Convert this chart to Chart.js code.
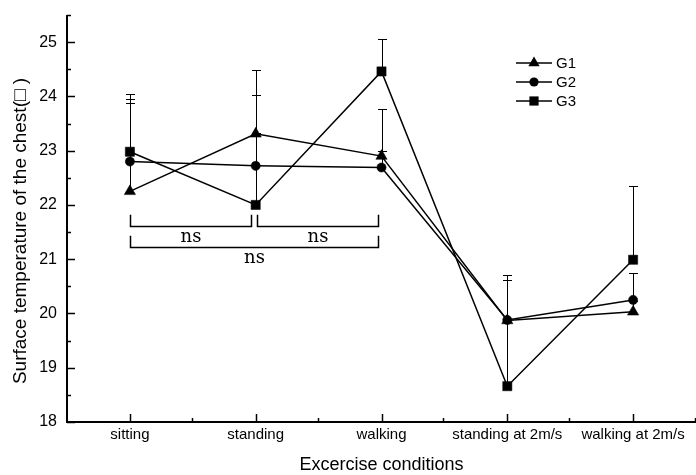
<!DOCTYPE html>
<html><head><meta charset="utf-8">
<script src="https://cdn.jsdelivr.net/npm/chart.js@4/dist/chart.umd.min.js"></script>
<style>html,body{margin:0;padding:0;background:#fff}#wrap{width:696px;height:475px;position:relative}</style>
</head><body><div id="wrap"><canvas id="c"></canvas></div>
<script>
const categories = ['sitting', 'standing', 'walking', 'standing at 2m/s', 'walking at 2m/s'];
const seriesNames = ['G1', 'G2', 'G3'];
const g1Values = [22.25, 23.31, 22.90, 19.87, 20.03];
const g2Values = [22.80, 22.72, 22.69, 19.88, 20.25];
const g3Values = [22.98, 22.00, 24.46, 18.66, 20.99];
const g1Errors = [1.63, 1.17, 0.87, 0.74, 0.20];
const g2Errors = [1.15, 0.60, 0.31, 0.82, 0.49];
const g3Errors = [1.06, 2.02, 0.59, 2.05, 1.35];
const yTickValues = [18, 19, 20, 21, 22, 23, 24, 25];
const bracketFrom = [0.00, 1.01, 0.00];
const bracketTo = [0.96, 1.97, 1.97];
const bracketLevel = [21.62, 21.62, 21.22];
const bracketTop = [21.82, 21.82, 21.43];
const bracketLabels = ['ns', 'ns', 'ns'];
const xTitle = 'Excercise conditions';
const yTitle = 'Surface temperature of the chest(\u25A1 )';

const SANS = '"Liberation Sans", Arial, sans-serif';

function drawMarker(ctx, style, cx, cy, r) {
  ctx.beginPath();
  if (style === 'triangle') {
    for (let k = 0; k < 3; k++) {
      const a = -Math.PI / 2 + k * 2 * Math.PI / 3;
      const px = cx + Math.cos(a) * r, py = cy + Math.sin(a) * r;
      if (k === 0) ctx.moveTo(px, py); else ctx.lineTo(px, py);
    }
    ctx.closePath();
  } else if (style === 'circle') {
    ctx.arc(cx, cy, r, 0, Math.PI * 2);
  } else {
    const s = r * Math.SQRT1_2;
    ctx.rect(cx - s, cy - s, 2 * s, 2 * s);
  }
  ctx.fill();
}

const decor = {
  id: 'decor',
  beforeDatasetsDraw(chart) {
    const { ctx, scales: { x, y } } = chart;
    ctx.save();
    ctx.strokeStyle = '#000';
    ctx.lineWidth = 1;
    chart.data.datasets.forEach(ds => {
      ds.errors.forEach((e, i) => {
        const px = Math.round(x.getPixelForValue(i)) + 0.5;
        const y0 = y.getPixelForValue(ds.data[i]);
        const y1 = Math.round(y.getPixelForValue(ds.data[i] + e)) + 0.5;
        ctx.beginPath();
        ctx.moveTo(px, y0); ctx.lineTo(px, y1);
        ctx.moveTo(px - 4.5, y1); ctx.lineTo(px + 4.5, y1);
        ctx.stroke();
      });
    });
    ctx.restore();
  },
  afterDraw(chart) {
    const { ctx, chartArea: a, scales: { x, y } } = chart;
    ctx.save();
    ctx.strokeStyle = '#000';
    ctx.fillStyle = '#000';
    // axis lines
    ctx.lineWidth = 2;
    ctx.beginPath();
    ctx.moveTo(a.left, a.top); ctx.lineTo(a.left, a.bottom); ctx.lineTo(a.right, a.bottom);
    ctx.stroke();
    // y ticks (inward)
    ctx.lineWidth = 1.5;
    for (let v = y.min; v <= y.max + 1e-9; v += 0.5) {
      const py = Math.round(y.getPixelForValue(v)) + 0.5;
      const len = Math.abs(v - Math.round(v)) < 1e-6 ? 8 : 4;
      ctx.beginPath(); ctx.moveTo(a.left, py); ctx.lineTo(a.left + len, py); ctx.stroke();
    }
    // x ticks (inward)
    for (let i = 0; i < categories.length; i++) {
      const px = Math.round(x.getPixelForValue(i)) + 0.5;
      ctx.beginPath(); ctx.moveTo(px, a.bottom); ctx.lineTo(px, a.bottom - 8); ctx.stroke();
      const pm = Math.round(x.getPixelForValue(i + 0.5)) - 0.5;
      ctx.beginPath(); ctx.moveTo(pm, a.bottom); ctx.lineTo(pm, a.bottom - 4); ctx.stroke();
    }
    // brackets
    ctx.lineWidth = 1.5;
    ctx.font = '18px "DejaVu Serif", serif';
    ctx.textAlign = 'center';
    ctx.textBaseline = 'middle';
    for (let b = 0; b < bracketLabels.length; b++) {
      const x0 = Math.round(x.getPixelForValue(bracketFrom[b])) + 0.5;
      const x1 = Math.round(x.getPixelForValue(bracketTo[b])) + 0.5;
      const yl = Math.round(y.getPixelForValue(bracketLevel[b])) + 0.5;
      const yt = y.getPixelForValue(bracketTop[b]);
      ctx.beginPath();
      ctx.moveTo(x0, yt); ctx.lineTo(x0, yl); ctx.lineTo(x1, yl); ctx.lineTo(x1, yt);
      ctx.stroke();
      ctx.fillText(bracketLabels[b], (x0 + x1) / 2, yl + 11);
    }
    // legend
    const lx0 = 516, lx1 = 552, ly = [63, 82, 101];
    ctx.font = '15px ' + SANS;
    ctx.textAlign = 'left';
    chart.data.datasets.forEach((ds, i) => {
      ctx.lineWidth = 1.5;
      ctx.beginPath(); ctx.moveTo(lx0, ly[i]); ctx.lineTo(lx1, ly[i]); ctx.stroke();
      drawMarker(ctx, ds.pointStyle, (lx0 + lx1) / 2, ly[i], ds.pointRadius);
      ctx.fillText(ds.label, 556, ly[i] + 1);
    });
    // axis titles
    ctx.font = '18px ' + SANS;
    ctx.textAlign = 'center';
    ctx.fillText(xTitle, (a.left + a.right) / 2, 465);
    ctx.save();
    ctx.translate(21, 231);
    ctx.rotate(-Math.PI / 2);
    ctx.font = '19px ' + SANS;
    ctx.fillText(yTitle, 0, 0);
    ctx.restore();
    ctx.restore();
  }
};

const styles = ['triangle', 'circle', 'rect'];
const radii = [6.5, 4.6, 6.5];
const values = [g1Values, g2Values, g3Values];
const errors = [g1Errors, g2Errors, g3Errors];

new Chart(document.getElementById('c'), {
  type: 'line',
  data: {
    labels: categories,
    datasets: seriesNames.map((n, i) => ({
      label: n,
      data: values[i],
      errors: errors[i],
      borderColor: '#000',
      borderWidth: 1.5,
      backgroundColor: '#000',
      pointBackgroundColor: '#000',
      pointBorderColor: '#000',
      pointBorderWidth: 0.5,
      pointStyle: styles[i],
      pointRadius: radii[i],
      pointHoverRadius: radii[i],
      tension: 0,
      fill: false,
      clip: false
    }))
  },
  options: {
    responsive: true,
    maintainAspectRatio: false,
    animation: false,
    events: [],
    layout: { autoPadding: false, padding: { top: 15, right: 0, left: 0, bottom: 0 } },
    plugins: { legend: { display: false }, tooltip: { enabled: false }, title: { display: false } },
    scales: {
      x: {
        type: 'category',
        offset: true,
        grid: { display: false, drawTicks: false },
        border: { display: false },
        ticks: { color: '#000', font: { family: SANS, size: 15 }, padding: 4, maxRotation: 0, autoSkip: false },
        afterFit(s) { s.height = 53; s.paddingLeft = 0; s.paddingRight = 0; }
      },
      y: {
        type: 'linear',
        min: 18,
        max: 25.5,
        grid: { display: false, drawTicks: false },
        border: { display: false },
        afterBuildTicks(s) { s.ticks = yTickValues.map(v => ({ value: v })); },
        ticks: { color: '#000', font: { family: SANS, size: 16 }, padding: 10 },
        afterFit(s) { s.width = 67; s.paddingTop = 0; s.paddingBottom = 0; }
      }
    }
  },
  plugins: [decor]
});
</script>
</body></html>
